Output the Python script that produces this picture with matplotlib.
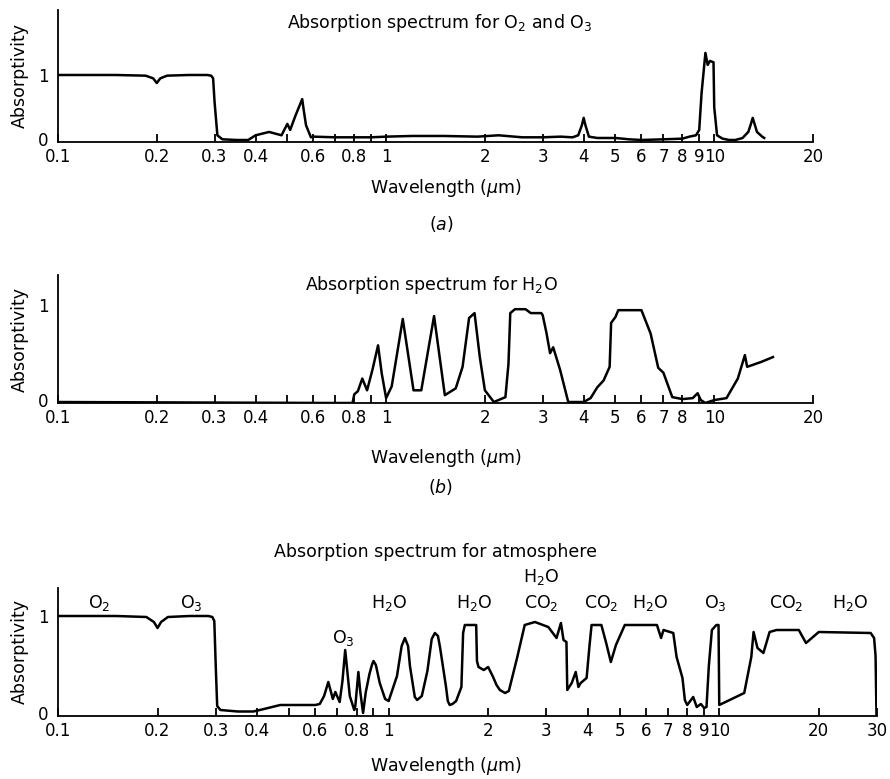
import matplotlib
matplotlib.use("Agg")
import matplotlib.pyplot as plt
import matplotlib.transforms as mtransforms
from matplotlib.ticker import FixedLocator, FixedFormatter, NullLocator

plt.rcParams['font.family'] = ['DejaVu Sans']
plt.rcParams['mathtext.fontset'] = 'dejavusans'

# ---------------- data ----------------
# (a) O2 and O3
wl_a = [0.1, 0.15, 0.185, 0.195, 0.2, 0.205, 0.215, 0.25, 0.285, 0.293, 0.297, 0.3,
        0.306, 0.317, 0.35, 0.38, 0.40, 0.44, 0.48, 0.50, 0.51, 0.53, 0.555, 0.56,
        0.57, 0.59, 0.60, 0.7, 0.8, 0.9, 1.0, 1.2, 1.5, 1.9, 2.2, 2.6, 3.0, 3.4, 3.7,
        3.85, 3.95, 4.0, 4.05, 4.15, 4.4, 5.0, 5.5, 6.0, 7.0, 8.0, 8.4, 8.8, 9.0, 9.15,
        9.4, 9.55, 9.7, 9.95, 10.0, 10.2, 10.6, 11.1, 11.6, 12.2, 12.7, 12.9, 13.1,
        13.5, 14.0, 14.2]
ab_a = [1.0, 1.0, 0.99, 0.95, 0.88, 0.95, 0.99, 1.0, 1.0, 0.99, 0.95, 0.6,
        0.1, 0.04, 0.03, 0.03, 0.1, 0.15, 0.1, 0.27, 0.18, 0.4, 0.64, 0.5,
        0.25, 0.07, 0.08, 0.07, 0.07, 0.07, 0.08, 0.09, 0.09, 0.08, 0.1, 0.07, 0.07, 0.08, 0.07,
        0.1, 0.25, 0.36, 0.25, 0.08, 0.06, 0.06, 0.04, 0.03, 0.04, 0.05, 0.08, 0.1, 0.18, 0.73,
        1.33, 1.15, 1.21, 1.19, 0.52, 0.1, 0.05, 0.03, 0.03, 0.06, 0.15, 0.25, 0.36,
        0.15, 0.08, 0.06]

# (b) H2O
wl_b = [0.1, 0.7, 0.79, 0.8, 0.82, 0.846, 0.875, 0.91, 0.945, 0.97, 1.0, 1.04,
        1.124, 1.212, 1.28, 1.40, 1.51, 1.63, 1.71, 1.79, 1.86, 1.93, 2.0, 2.13,
        2.31, 2.36, 2.39, 2.47, 2.66, 2.76, 2.97, 3.0, 3.08, 3.16, 3.23, 3.39, 3.59,
        4.0, 4.2, 4.4, 4.6, 4.8, 4.85, 5.0, 5.1, 6.0, 6.4, 6.75, 7.0, 7.45, 8.0,
        8.6, 8.9, 9.1, 9.4, 10.0, 10.9, 11.8, 12.4, 12.6, 13.9, 15.1]
ab_b = [0.01, 0.0, 0.0, 0.09, 0.12, 0.25, 0.13, 0.35, 0.59, 0.3, 0.05, 0.17,
        0.86, 0.13, 0.13, 0.89, 0.08, 0.15, 0.37, 0.87, 0.92, 0.47, 0.13, 0.01,
        0.06, 0.4, 0.92, 0.96, 0.96, 0.92, 0.92, 0.9, 0.72, 0.51, 0.57, 0.34, 0.01,
        0.01, 0.05, 0.16, 0.23, 0.37, 0.82, 0.88, 0.95, 0.95, 0.71, 0.36, 0.31, 0.06, 0.04,
        0.05, 0.1, 0.03, 0.0, 0.03, 0.05, 0.25, 0.49, 0.37, 0.42, 0.47]

# (c) atmosphere
wl_c = [0.1, 0.15, 0.185, 0.195, 0.2, 0.205, 0.215, 0.25, 0.285, 0.293, 0.297, 0.3,
        0.303, 0.31, 0.35, 0.39, 0.42, 0.47, 0.55, 0.6, 0.619, 0.638, 0.657, 0.678,
        0.69, 0.711, 0.725, 0.739, 0.763, 0.787, 0.793, 0.81, 0.821, 0.837, 0.853,
        0.875, 0.89, 0.9, 0.915, 0.94, 0.976, 1.0, 1.06, 1.095, 1.12, 1.145, 1.16,
        1.2, 1.22, 1.26, 1.31, 1.35, 1.38, 1.41, 1.43,
        1.49, 1.51, 1.53, 1.56, 1.6, 1.66, 1.68, 1.70, 1.84, 1.85, 1.87, 1.94, 2.0,
        2.07, 2.12, 2.17, 2.25, 2.31, 2.45, 2.58, 2.77, 3.04, 3.22, 3.32, 3.38, 3.45,
        3.47, 3.58, 3.68, 3.75, 3.81, 3.97, 4.05, 4.11, 4.40, 4.55, 4.70, 4.87, 5.18,
        6.48, 6.67, 6.78, 7.26, 7.43, 7.74, 7.87, 8.0, 8.34, 8.55, 8.8, 9.0, 9.15, 9.3,
        9.5, 9.8, 9.95, 10.0, 11.9, 12.5, 12.7, 13.05, 13.6, 14.2, 14.9, 17.4, 18.3,
        20.0, 28.7, 29.4, 29.7, 29.9]
ab_c = [1.0, 1.0, 0.99, 0.94, 0.88, 0.94, 0.99, 1.0, 1.0, 0.99, 0.95, 0.5,
        0.1, 0.06, 0.045, 0.045, 0.07, 0.11, 0.11, 0.11, 0.12, 0.2, 0.34, 0.17,
        0.24, 0.14, 0.35, 0.66, 0.2, 0.06, 0.1, 0.44, 0.24, 0.03, 0.24,
        0.42, 0.51, 0.55, 0.51, 0.33, 0.17, 0.15, 0.4, 0.7, 0.78, 0.7, 0.5,
        0.19, 0.16, 0.2, 0.45, 0.77, 0.83, 0.8, 0.69,
        0.3, 0.15, 0.11, 0.12, 0.15, 0.29, 0.83, 0.91, 0.91, 0.55, 0.49, 0.46, 0.49,
        0.39, 0.31, 0.26, 0.23, 0.25, 0.59, 0.91, 0.94, 0.89, 0.78, 0.93, 0.76, 0.74,
        0.26, 0.33, 0.44, 0.29, 0.33, 0.38, 0.7, 0.91, 0.91, 0.73, 0.54, 0.71, 0.91,
        0.91, 0.78, 0.86, 0.83, 0.59, 0.38, 0.16, 0.11, 0.19, 0.09, 0.12, 0.08, 0.09, 0.5,
        0.86, 0.91, 0.91, 0.11, 0.23, 0.59, 0.84, 0.68, 0.63, 0.84, 0.86, 0.86, 0.73,
        0.84, 0.83, 0.78, 0.6, 0.0]

# band labels (atmosphere panel)
band_text = ['O$_2$', 'O$_3$', 'H$_2$O', 'O$_3$', 'H$_2$O', 'H$_2$O', 'CO$_2$',
             'CO$_2$', 'H$_2$O', 'O$_3$', 'CO$_2$', 'H$_2$O']
band_wl = [0.133, 0.253, 1.0, 0.728, 1.82, 2.89, 2.89, 4.4, 6.2, 9.7, 15.9, 24.9]
band_y = [1.08, 1.08, 1.08, 0.73, 1.08, 1.34, 1.08, 1.08, 1.08, 1.08, 1.08, 1.08]

ticks_ab = [0.1, 0.2, 0.3, 0.4, 0.5, 0.6, 0.7, 0.8, 0.9, 1, 2, 3, 4, 5, 6, 7, 8, 9, 10, 20]
labels_a = ['0.1', '0.2', '0.3', '0.4', '', '0.6', '', '0.8', '', '1', '2', '3', '4',
            '5', '6', '7', '8', '9', '10', '20']
labels_b = ['0.1', '0.2', '0.3', '0.4', '', '0.6', '', '0.8', '', '1', '2', '3', '4',
            '5', '6', '7', '8', '', '10', '20']
ticks_c = [0.1, 0.2, 0.3, 0.4, 0.5, 0.6, 0.7, 0.8, 0.9, 1, 2, 3, 4, 5, 6, 7, 8, 9, 10, 20, 30]
labels_c = ['0.1', '0.2', '0.3', '0.4', '', '0.6', '', '0.8', '', '1', '2', '3', '4',
            '5', '6', '7', '8', '9', '10', '20', '30']

# ---------------- figure ----------------
W, H = 890, 779
fig = plt.figure(figsize=(W / 100, H / 100), dpi=100)


def px(x, y):
    return x / W, 1 - y / H


LW = 1.8
FS_TICK = 12
FS_TEXT = 12.5


def style(ax, ticks, labels, xmax, ymax):
    ax.set_xscale('log')
    ax.set_xlim(0.1, xmax)
    ax.set_ylim(0, ymax)
    for s in ('top', 'right'):
        ax.spines[s].set_visible(False)
    for s in ('left', 'bottom'):
        ax.spines[s].set_linewidth(1.3)
    ax.xaxis.set_major_locator(FixedLocator(ticks))
    ax.xaxis.set_major_formatter(FixedFormatter(labels))
    ax.xaxis.set_minor_locator(NullLocator())
    ax.set_yticks([0, 1])
    ax.set_yticklabels(['0', '1'])
    ax.tick_params(axis='x', direction='in', length=6, width=1.3, pad=4, labelsize=FS_TICK)
    ax.tick_params(axis='y', length=0, pad=7, labelsize=FS_TICK)
    ax.set_ylabel('Absorptivity', fontsize=FS_TEXT)
    ax.patch.set_alpha(0)
    # lift the "0" label a little so it sits above the 0.1 label
    lab0 = ax.get_yticklabels()[0]
    lab0.set_transform(lab0.get_transform() +
                       mtransforms.ScaledTranslation(0, 3 / 100, fig.dpi_scale_trans))


ax_a = fig.add_axes([58 / W, 1 - 142 / H, 755 / W, 132 / H])
ax_a.plot(wl_a, ab_a, color='black', lw=LW, solid_joinstyle='round')
style(ax_a, ticks_ab, labels_a, 20, 1.97)
ax_a.yaxis.set_label_coords(-0.038, 0.5)

ax_b = fig.add_axes([58 / W, 1 - 403 / H, 755 / W, 128 / H])
ax_b.plot(wl_b, ab_b, color='black', lw=LW, solid_joinstyle='round')
style(ax_b, ticks_ab, labels_b, 20, 1.31)
ax_b.yaxis.set_label_coords(-0.038, 0.5)

ax_c = fig.add_axes([58 / W, 1 - 716 / H, 819 / W, 128 / H])
ax_c.plot(wl_c, ab_c, color='black', lw=LW, solid_joinstyle='round')
style(ax_c, ticks_c, labels_c, 30, 1.28)
ax_c.yaxis.set_label_coords(-0.035, 0.5)

for t, x, y in zip(band_text, band_wl, band_y):
    ax_c.text(x, y, t, ha='center', va='baseline', fontsize=FS_TEXT, clip_on=False)

# titles, axis labels, panel letters
fig.text(*px(440, 28), 'Absorption spectrum for O$_2$ and O$_3$', ha='center', va='baseline', fontsize=FS_TEXT)
fig.text(*px(431, 290), 'Absorption spectrum for H$_2$O', ha='center', va='baseline', fontsize=FS_TEXT)
fig.text(*px(436, 557), 'Absorption spectrum for atmosphere', ha='center', va='baseline', fontsize=FS_TEXT)

for yb in (193, 463, 771):
    fig.text(*px(446, yb), r'Wavelength ($\mu$m)', ha='center', va='baseline', fontsize=FS_TEXT)

fig.text(*px(441, 230), '($a$)', ha='center', va='baseline', fontsize=FS_TEXT)
fig.text(*px(441, 493), '($b$)', ha='center', va='baseline', fontsize=FS_TEXT)

fig.savefig('out.png', dpi=100)
